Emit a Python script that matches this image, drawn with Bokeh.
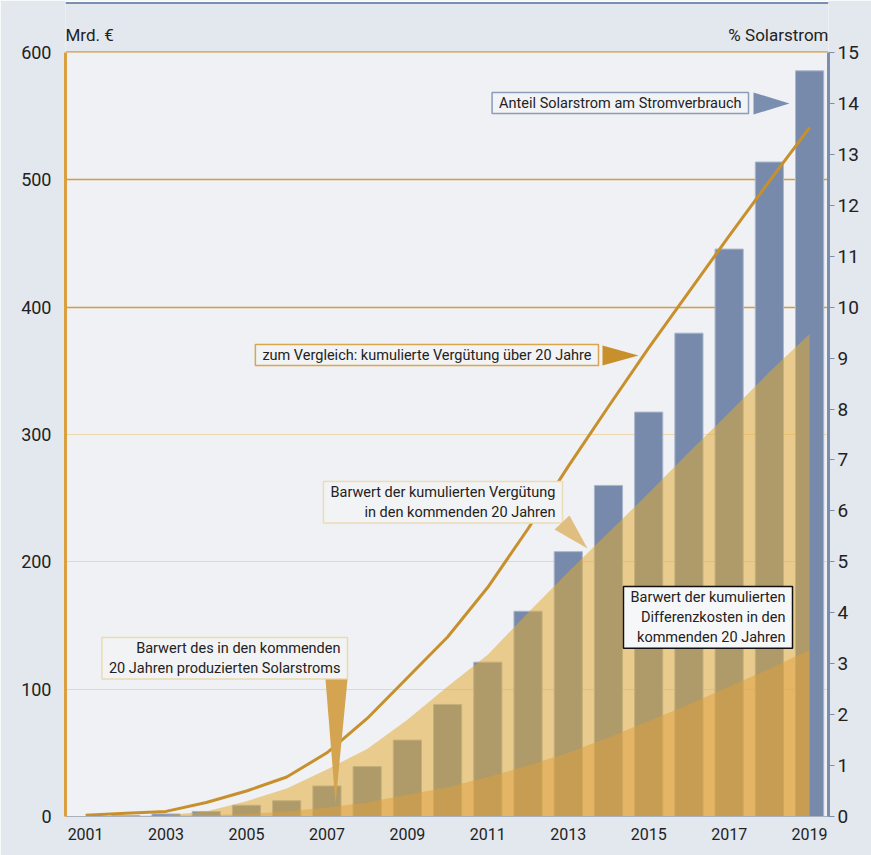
from bokeh.plotting import figure
from bokeh.models import (Range1d, LinearAxis, FixedTicker, Grid, Label,
                          PolyAnnotation, BoxAnnotation)
from bokeh.embed import file_html
from bokeh.resources import INLINE

# ---------------- data ----------------
years = list(range(2001, 2020))
share_pct = [0.0, 0.02, 0.05, 0.1, 0.22, 0.31, 0.6, 0.98, 1.5, 2.2, 3.03,
             4.03, 5.2, 6.5, 7.94, 9.49, 11.14, 12.85, 14.64]
verguetung_20j = [1, 2.5, 4, 11, 20, 31, 50, 77, 109, 141, 180, 226, 275,
                  322, 368, 412, 456, 499, 541]
barwert_verguetung = [0, 0.3, 1, 4, 12, 22, 37, 53, 76, 102, 127, 160, 192,
                      223, 254, 286, 317, 349, 379]
barwert_differenz = [0, 0.1, 0.5, 1, 2, 4, 7, 11, 17, 23, 31, 40, 50, 62,
                     75, 88, 102, 116, 131]
x_tick_years = list(range(2001, 2020, 2))
left_ticks = [0, 100, 200, 300, 400, 500, 600]
right_ticks = list(range(0, 16))
LEFT_MAX, RIGHT_MAX = 600, 15

# ---------------- layout helpers (page pixels) ----------------
W, H = 871, 855
X0, X1 = 2000.5, 2019.47
FL, FR, FT, FB = 65, 828, 52, 816      # frame of the 0..600 area
TOP = 0                                 # top of canvas frame (room for titles)
YTOP = LEFT_MAX * (FB - TOP) / (FB - FT)


def dx(px):
    return X0 + (px - FL) * (X1 - X0) / (FR - FL)


def dy(py):
    return (FB - py) * LEFT_MAX / (FB - FT)


FONT = "Roboto"
TXT = "#222222"
PAGE_BG = "#e3e7ee"

p = figure(width=W, height=H, x_range=Range1d(X0, X1),
           y_range=Range1d(0, YTOP), output_backend="svg",
           toolbar_location=None, min_border_left=FL,
           min_border_right=W - FR, min_border_top=TOP,
           min_border_bottom=H - FB)
p.background_fill_color = "#eff1f4"
p.border_fill_color = PAGE_BG
p.outline_line_color = None
p.extra_y_ranges = {"pct": Range1d(0, RIGHT_MAX * YTOP / LEFT_MAX)}

# grids
p.xgrid.visible = False
p.ygrid.visible = False
p.add_layout(Grid(dimension=1, ticker=FixedTicker(ticks=[400, 500]),
                  grid_line_color="#d89c38", grid_line_alpha=1.0,
                  grid_line_width=1.3))
p.add_layout(Grid(dimension=1, ticker=FixedTicker(ticks=[100, 200, 300]),
                  grid_line_color="#eed6ae", grid_line_alpha=1.0,
                  grid_line_width=1.2))

# bars
p.vbar(x=years, top=share_pct, width=0.7, y_range_name="pct",
       fill_color="#778aab", line_color="#a9b6cc", line_width=1)
# areas
p.varea(x=years, y1=[0] * len(years), y2=barwert_verguetung,
        fill_color="#e2a82e", fill_alpha=0.52)
p.varea(x=years, y1=[0] * len(years), y2=barwert_differenz,
        fill_color="#dea03c", fill_alpha=0.5)
# line
p.line(years, verguetung_20j, line_color="#c8902c", line_width=3)

# page background above the 600 line, the 600 edge line and the top rule
p.add_layout(BoxAnnotation(bottom=LEFT_MAX, fill_color=PAGE_BG,
                           fill_alpha=1.0, line_color=None))
p.add_layout(BoxAnnotation(bottom=LEFT_MAX, top=LEFT_MAX + 0.9,
                           fill_color="#d89c38", fill_alpha=1.0,
                           line_color=None))
p.add_layout(BoxAnnotation(bottom=dy(1.5), fill_color="#ffffff",
                           fill_alpha=1.0, line_color=None))
p.add_layout(BoxAnnotation(bottom=dy(3.5), top=dy(1.5),
                           fill_color="#7890b0", fill_alpha=1.0,
                           line_color=None))

# axes
ax = p.xaxis[0]
ax.ticker = FixedTicker(ticks=x_tick_years)
ax.major_tick_line_color = None
ax.minor_tick_line_color = None
ax.axis_line_color = "#a8b0bc"
ax.axis_line_width = 1
ax.major_label_text_font = FONT
ax.major_label_text_font_size = "16px"
ax.major_label_text_color = TXT
ax.major_label_standoff = 5

ay = p.yaxis[0]
ay.ticker = FixedTicker(ticks=left_ticks)
ay.bounds = (0, LEFT_MAX)
ay.major_tick_line_color = None
ay.minor_tick_line_color = None
ay.axis_line_color = "#d9a040"
ay.axis_line_width = 3
ay.major_label_text_font = FONT
ay.major_label_text_font_size = "18px"
ay.major_label_text_color = TXT
ay.major_label_standoff = 8

ar = LinearAxis(y_range_name="pct", ticker=FixedTicker(ticks=right_ticks),
                bounds=(0, RIGHT_MAX))
ar.axis_line_color = "#7a8fb0"
ar.axis_line_width = 3
ar.major_tick_line_color = "#7a8fb0"
ar.major_tick_in = 0
ar.major_tick_out = 6
ar.minor_tick_line_color = None
ar.major_label_text_font = FONT
ar.major_label_text_font_size = "19px"
ar.major_label_text_color = TXT
ar.major_label_standoff = 3
p.add_layout(ar, "right")

# axis titles
p.add_layout(Label(x=dx(65), y=dy(44), text="Mrd. €", text_font=FONT,
                   text_font_size="17px", text_color=TXT,
                   text_baseline="bottom", text_align="left"))
p.add_layout(Label(x=dx(828), y=dy(44), text="% Solarstrom",
                   text_font=FONT, text_font_size="17px", text_color=TXT,
                   text_baseline="bottom", text_align="right"))

# annotation boxes
BOX_BG = "#f2f3f5"
boxes = [
    ("Anteil Solarstrom am Stromverbrauch", 748, 92, "#8a9dbb", BOX_BG),
    ("zum Vergleich: kumulierte Vergütung über 20 Jahre", 598, 344,
     "#d9a650", BOX_BG),
    ("Barwert der kumulierten Vergütung\nin den kommenden 20 Jahren", 562,
     481, "#ecdcb8", BOX_BG),
    ("Barwert der kumulierten\nDifferenzkosten in den\nkommenden 20 Jahren",
     792, 586, "#111111", "#f6f7f8"),
    ("Barwert des in den kommenden\n20 Jahren produzierten Solarstroms", 347,
     637, "#ecd9b0", BOX_BG),
]
for text, rx, ty, bc, bg in boxes:
    p.add_layout(Label(x=dx(rx), y=dy(ty), text=text, text_font=FONT,
                       text_font_size="14.5px", text_color=TXT,
                       text_align="right", text_baseline="top",
                       text_line_height=1.2,
                       padding=dict(left=7, right=7, top=2, bottom=2),
                       border_line_color=bc,
                       border_line_width=1.5, background_fill_color=bg))

# pointer triangles
tris = [
    ([753, 753, 789], [92, 114, 103], "#7a8fb0"),
    ([602, 602, 638], [345, 365, 355], "#c8902c"),
    ([554, 569, 587], [529, 515, 548], "#e0be80"),
    ([325, 347, 335], [679, 679, 803], "#d4a450"),
]
for xs, ys, c in tris:
    p.add_layout(PolyAnnotation(xs=[dx(v) for v in xs],
                                ys=[dy(v) for v in ys],
                                fill_color=c, fill_alpha=1.0,
                                line_color=None))

open("out.html", "w").write(file_html(p, INLINE))
